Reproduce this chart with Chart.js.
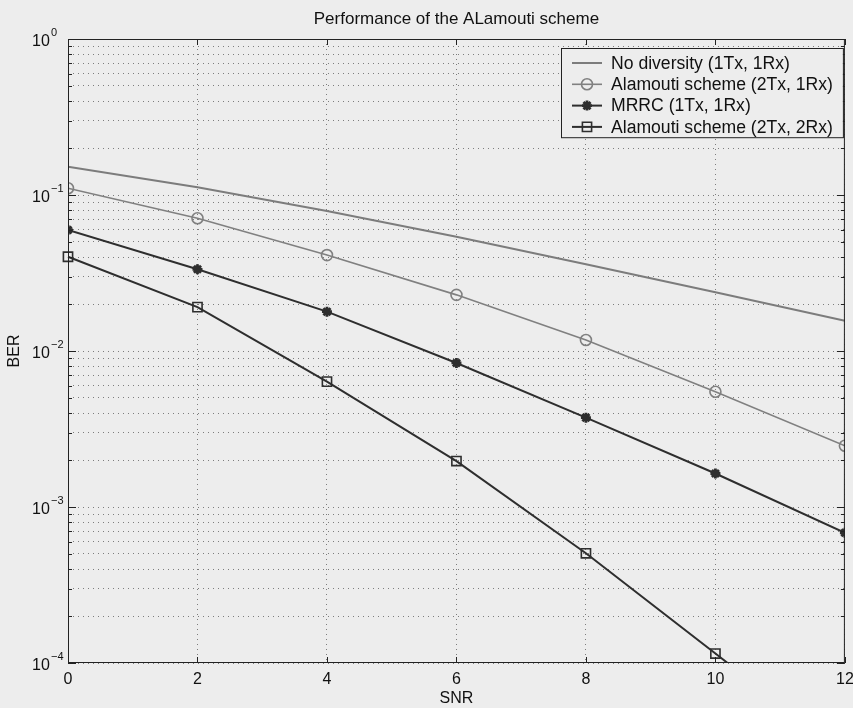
<!DOCTYPE html>
<html>
<head>
<meta charset="utf-8">
<script src="https://cdn.jsdelivr.net/npm/chart.js@4.4.0/dist/chart.umd.min.js"></script>
<style>
  html, body { margin: 0; padding: 0; background: #ededed; }
  #wrap { width: 853px; height: 708px; }
</style>
</head>
<body>
<div id="wrap"><canvas id="ber" width="853" height="708"></canvas></div>
<script>
const snr = [0, 2, 4, 6, 8, 10, 12];
const noDiversity = [0.152, 0.112, 0.079, 0.054, 0.036, 0.0238, 0.0156];
const alamouti21 = [0.1104, 0.0709, 0.0412, 0.0229, 0.01177, 0.00548, 0.00247];
const mrrc = [0.0597, 0.0334, 0.01787, 0.00838, 0.00374, 0.00164, 0.000684];
const alamouti22 = [0.0402, 0.0191, 0.00636, 0.00197, 0.000505, 0.000115, 0.000026];
const seriesLabels = ['No diversity (1Tx, 1Rx)', 'Alamouti scheme (2Tx, 1Rx)', 'MRRC (1Tx, 1Rx)', 'Alamouti scheme (2Tx, 2Rx)'];
const xTicks = [0, 2, 4, 6, 8, 10, 12];
const yDecades = [-4, -3, -2, -1, 0];
const chartTitle = 'Performance of the ALamouti scheme';

const FONT = "'Liberation Sans', Arial, sans-serif";
const INK = '#111';
const BG = '#ededed';
const GRID = 'rgba(50,50,50,0.6)';

function points(values) {
  return snr.map((x, i) => ({ x: x, y: values[i] }));
}

// minor + major log ticks, 1..9 x 10^n
function logTicks() {
  const out = [];
  for (let e = yDecades[0]; e < yDecades[yDecades.length - 1]; e++) {
    for (let m = 1; m < 10; m++) out.push({ value: m * Math.pow(10, e), major: m === 1 });
  }
  out.push({ value: Math.pow(10, yDecades[yDecades.length - 1]), major: true });
  return out;
}

// marker used in the legend
function marker(ctx, style, x, y, r) {
  ctx.beginPath();
  if (style === 'circle') {
    ctx.arc(x, y, r, 0, Math.PI * 2);
  } else if (style === 'rect') {
    const s = r * Math.SQRT1_2;
    ctx.rect(x - s, y - s, 2 * s, 2 * s);
  } else if (style === 'star') {
    for (let k = 0; k < 4; k++) {
      const a = k * Math.PI / 4;
      ctx.moveTo(x - Math.cos(a) * r, y - Math.sin(a) * r);
      ctx.lineTo(x + Math.cos(a) * r, y + Math.sin(a) * r);
    }
  }
  ctx.stroke();
}

const framePlugin = {
  id: 'frame',
  beforeDraw(chart) {
    const ctx = chart.ctx;
    ctx.save();
    ctx.fillStyle = BG;
    ctx.fillRect(0, 0, chart.width, chart.height);
    ctx.restore();
  },
  afterDatasetsDraw(chart) {
    const { ctx, chartArea: a, scales } = chart;
    ctx.save();
    ctx.strokeStyle = '#222';
    ctx.lineWidth = 1;
    ctx.strokeRect(a.left + 0.5, a.top + 0.5, a.right - a.left - 1, a.bottom - a.top - 1);

    // title centred over the plot box
    ctx.fillStyle = INK;
    ctx.font = '17px ' + FONT;
    ctx.textAlign = 'center';
    ctx.textBaseline = 'middle';
    ctx.fillText(chartTitle, (a.left + a.right) / 2, 19);

    // inward tick marks
    ctx.beginPath();
    xTicks.forEach(v => {
      const px = Math.round(scales.x.getPixelForValue(v)) + 0.5;
      ctx.moveTo(px, a.bottom); ctx.lineTo(px, a.bottom - 6);
      ctx.moveTo(px, a.top); ctx.lineTo(px, a.top + 6);
    });
    logTicks().forEach(t => {
      const py = Math.round(scales.y.getPixelForValue(t.value)) + 0.5;
      const len = t.major ? 8 : 4;
      ctx.moveTo(a.left, py); ctx.lineTo(a.left + len, py);
      ctx.moveTo(a.right, py); ctx.lineTo(a.right - len, py);
    });
    ctx.stroke();

    // y tick labels 10^n
    ctx.textAlign = 'left';
    ctx.textBaseline = 'alphabetic';
    yDecades.forEach(e => {
      const py = scales.y.getPixelForValue(Math.pow(10, e));
      ctx.font = '16px ' + FONT;
      ctx.fillText('10', 32, py + 7);
      ctx.font = '11px ' + FONT;
      ctx.fillText(e === 0 ? '0' : '\u2212' + Math.abs(e), 51, py - 3);
    });

    // legend
    const box = { left: 561, top: a.top + 9, right: a.right - 2 };
    const rowH = 21.3;
    box.bottom = box.top + rowH * chart.data.datasets.length + 4;
    ctx.fillStyle = BG;
    ctx.fillRect(box.left, box.top, box.right - box.left, box.bottom - box.top);
    ctx.strokeStyle = '#222';
    ctx.strokeRect(box.left + 0.5, box.top + 0.5, box.right - box.left, box.bottom - box.top);
    ctx.font = '17.6px ' + FONT;
    ctx.textBaseline = 'middle';
    chart.data.datasets.forEach((ds, i) => {
      const y = box.top + 15 + i * rowH;
      ctx.strokeStyle = ds.borderColor;
      ctx.lineWidth = ds.borderWidth;
      ctx.beginPath();
      ctx.moveTo(box.left + 11, y); ctx.lineTo(box.left + 41, y);
      ctx.stroke();
      if (ds.pointRadius > 0) {
        ctx.lineWidth = ds.pointBorderWidth;
        marker(ctx, ds.pointStyle, box.left + 26, y, ds.pointRadius);
      }
      ctx.fillStyle = INK;
      ctx.fillText(ds.label, box.left + 50, y + 1);
    });
    ctx.restore();
  }
};

new Chart(document.getElementById('ber').getContext('2d'), {
  type: 'line',
  data: {
    datasets: [
      { label: seriesLabels[0], data: points(noDiversity), borderColor: '#7c7c7c', borderWidth: 2,
        pointRadius: 0, pointStyle: 'circle' },
      { label: seriesLabels[1], data: points(alamouti21), borderColor: '#808080', borderWidth: 1.6,
        pointRadius: 5.5, pointStyle: 'circle', pointBorderWidth: 1.6, pointBackgroundColor: 'rgba(0,0,0,0)' },
      { label: seriesLabels[2], data: points(mrrc), borderColor: '#2e2e2e', borderWidth: 2,
        pointRadius: 5, pointStyle: 'star', pointBorderWidth: 2.8, pointBackgroundColor: '#2e2e2e' },
      { label: seriesLabels[3], data: points(alamouti22), borderColor: '#2e2e2e', borderWidth: 2,
        pointRadius: 6.5, pointStyle: 'rect', pointBorderWidth: 1.6, pointBackgroundColor: 'rgba(0,0,0,0)',
        clip: { left: false, top: false, right: false, bottom: 0 } }
    ]
  },
  options: {
    responsive: false,
    animation: false,
    layout: { padding: { top: 39, left: 0, right: 0, bottom: 0 } },
    elements: { line: { tension: 0 } },
    plugins: {
      legend: { display: false },
      tooltip: { enabled: false },
      title: { display: false }
    },
    scales: {
      x: {
        type: 'linear', min: 0, max: 12,
        afterBuildTicks: s => { s.ticks = xTicks.map(v => ({ value: v })); },
        afterFit: s => { s.height = 45; s.paddingLeft = 0; s.paddingRight = 7; },
        grid: { color: GRID, lineWidth: 1, drawTicks: false },
        border: { display: false, dash: [1, 4] },
        ticks: { color: INK, font: { family: FONT, size: 16 }, padding: 7, maxRotation: 0 },
        title: { display: true, text: 'SNR', color: INK, font: { family: FONT, size: 16 }, padding: { top: 0, bottom: 0 } }
      },
      y: {
        type: 'logarithmic', min: 1e-4, max: 1,
        afterBuildTicks: s => { s.ticks = logTicks(); },
        afterFit: s => { s.width = 68; },
        grid: { color: GRID, lineWidth: 1, drawTicks: false },
        border: { display: false, dash: [1, 4] },
        ticks: { display: false },
        title: { display: true, text: 'BER', color: INK, font: { family: FONT, size: 16 }, padding: { top: 5, bottom: 0 } }
      }
    }
  },
  plugins: [framePlugin]
});
</script>
</body>
</html>
